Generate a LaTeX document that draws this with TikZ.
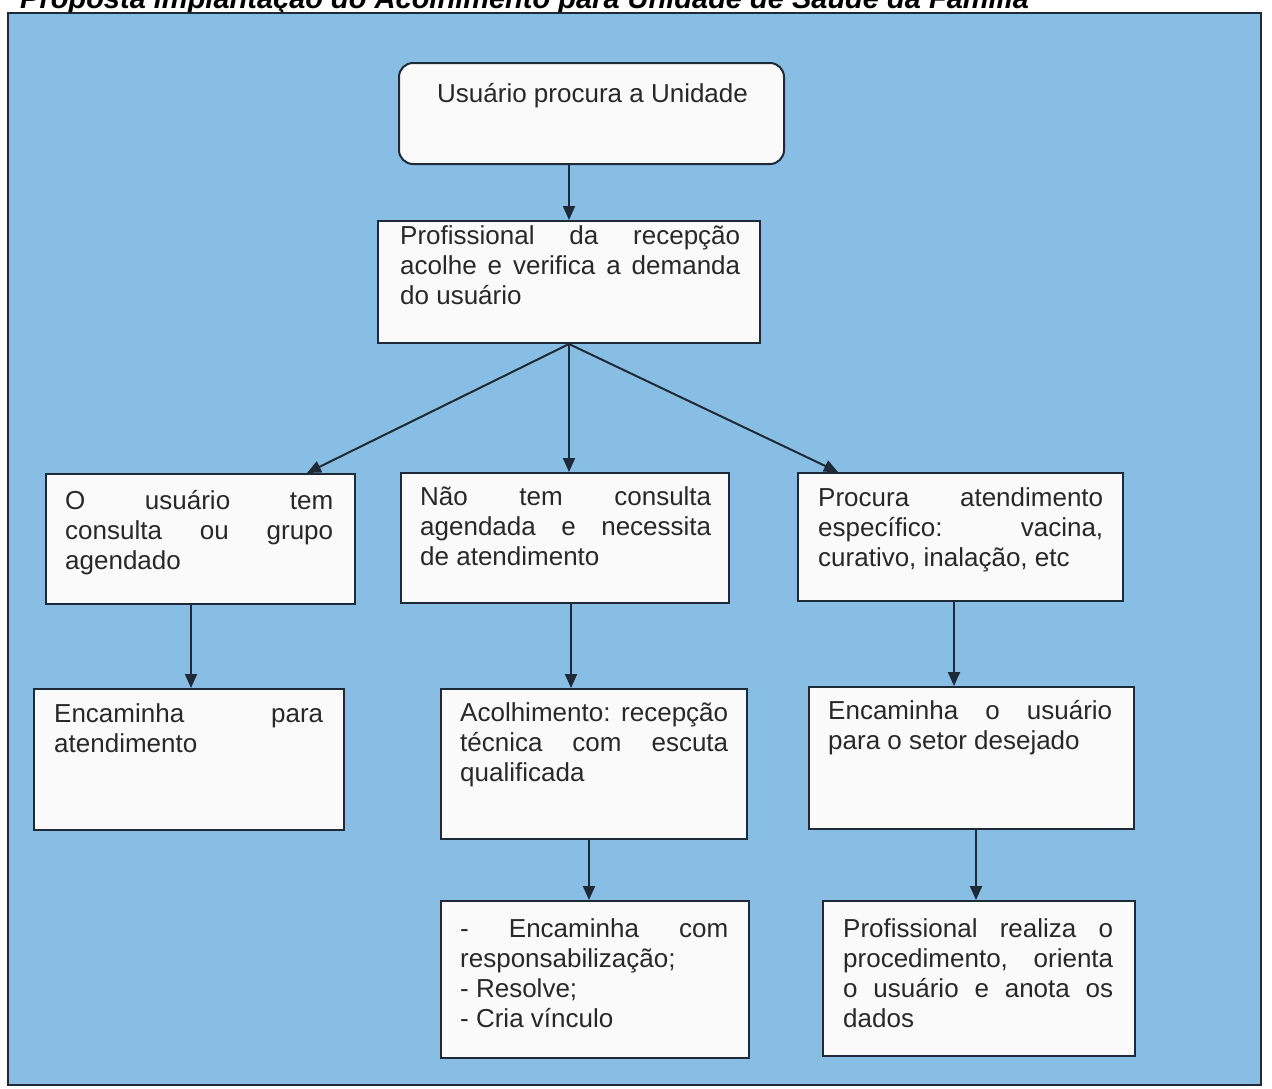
\documentclass[tikz,border=0pt]{standalone}
\usepackage{fontspec}
\setmainfont{Liberation Sans}
\usetikzlibrary{arrows.meta}
\definecolor{bg}{RGB}{136,189,228}
\definecolor{ln}{RGB}{30,42,55}
\definecolor{tx}{RGB}{40,40,40}
\definecolor{bx}{RGB}{250,250,250}
\newcommand\jl[2]{\makebox[#1pt][s]{#2}}
\newcommand\fl{\rule{0pt}{20pt}}
\begin{document}
\begin{tikzpicture}[x=1pt,y=-1pt,
  box/.style={draw=ln,fill=bx,line width=2pt,inner sep=0pt,anchor=north west},
  txt/.style={inner sep=0pt,anchor=north west,align=left,text=tx,font=\fontsize{26}{30}\selectfont},
  ttl/.style={inner sep=0pt,anchor=base west,text=black,font=\fontsize{29}{32}\selectfont\bfseries\itshape},
  arr/.style={draw=ln,line width=2pt,-{Triangle[length=14pt,width=12pt]}}]
\useasboundingbox (0,0) rectangle (1272,1088);
\fill[white] (0,0) rectangle (1272,1088);
\begin{scope}
\clip (0,0) rectangle (1272,12);
\node[ttl] (title) at (20,8) {Proposta implantação do Acolhimento para Unidade de Saúde da Família};
\end{scope}
\draw[fill=bg,draw=ln,line width=2.5pt] (8,13) rectangle (1261,1085);
% boxes
\node[box,rounded corners=14pt,minimum width=385pt,minimum height=101pt] (b1) at (398,62) {};
\node[box,minimum width=382pt,minimum height=122pt] (b2) at (377,220) {};
\node[box,minimum width=309pt,minimum height=130pt] (b3) at (45,473) {};
\node[box,minimum width=328pt,minimum height=130pt] (b4) at (400,472) {};
\node[box,minimum width=325pt,minimum height=128pt] (b5) at (797,472) {};
\node[box,minimum width=310pt,minimum height=141pt] (b6) at (33,688) {};
\node[box,minimum width=306pt,minimum height=150pt] (b7) at (440,688) {};
\node[box,minimum width=325pt,minimum height=142pt] (b8) at (808,686) {};
\node[box,minimum width=308pt,minimum height=157pt] (b9) at (440,900) {};
\node[box,minimum width=312pt,minimum height=155pt] (b10) at (822,900) {};
% texts
\node[txt] (t1) at (437,102-20) {\fl Usuário procura a Unidade};
\node[txt] (t2) at (400,244-20) {\fl\jl{340}{Profissional da recepção}\\\jl{340}{acolhe e verifica a demanda}\\do usuário};
\node[txt] (t3) at (65,509-20) {\fl\jl{268}{O usuário tem}\\\jl{268}{consulta ou grupo}\\agendado};
\node[txt] (t4) at (420,505-20) {\fl\jl{291}{Não tem consulta}\\\jl{291}{agendada e necessita}\\de atendimento};
\node[txt] (t5) at (818,506-20) {\fl\jl{285}{Procura atendimento}\\\jl{285}{específico: vacina,}\\curativo, inalação, etc};
\node[txt] (t6) at (54,722-20) {\fl\jl{269}{Encaminha para}\\atendimento};
\node[txt] (t7) at (460,721-20) {\fl\jl{268}{Acolhimento: recepção}\\\jl{268}{técnica com escuta}\\qualificada};
\node[txt] (t8) at (828,719-20) {\fl\jl{284}{Encaminha o usuário}\\para o setor desejado};
\node[txt] (t9) at (460,937-20) {\fl\jl{268}{- Encaminha com}\\responsabilização;\\- Resolve;\\- Cria vínculo};
\node[txt] (t10) at (843,937-20) {\fl\jl{270}{Profissional realiza o}\\\jl{270}{procedimento, orienta}\\\jl{270}{o usuário e anota os}\\dados};
% arrows
\draw[arr] ([xshift=-22.5pt]b1.south) -- (b2.north);
\draw[arr] (b2.south) -- ([xshift=106.5pt]b3.north);
\draw[arr] (b2.south) -- ([xshift=4pt]b4.north);
\draw[arr] (b2.south) -- ([xshift=-122.5pt]b5.north);
\draw[arr] ([xshift=-9.5pt]b3.south) -- ([xshift=2pt]b6.north);
\draw[arr] ([xshift=6pt]b4.south) -- ([xshift=-23pt]b7.north);
\draw[arr] ([xshift=-6.5pt]b5.south) -- ([xshift=-17.5pt]b8.north);
\draw[arr] ([xshift=-5pt]b7.south) -- ([xshift=-6pt]b9.north);
\draw[arr] ([xshift=4.5pt]b8.south) -- ([xshift=-3pt]b10.north);
\end{tikzpicture}
\end{document}
